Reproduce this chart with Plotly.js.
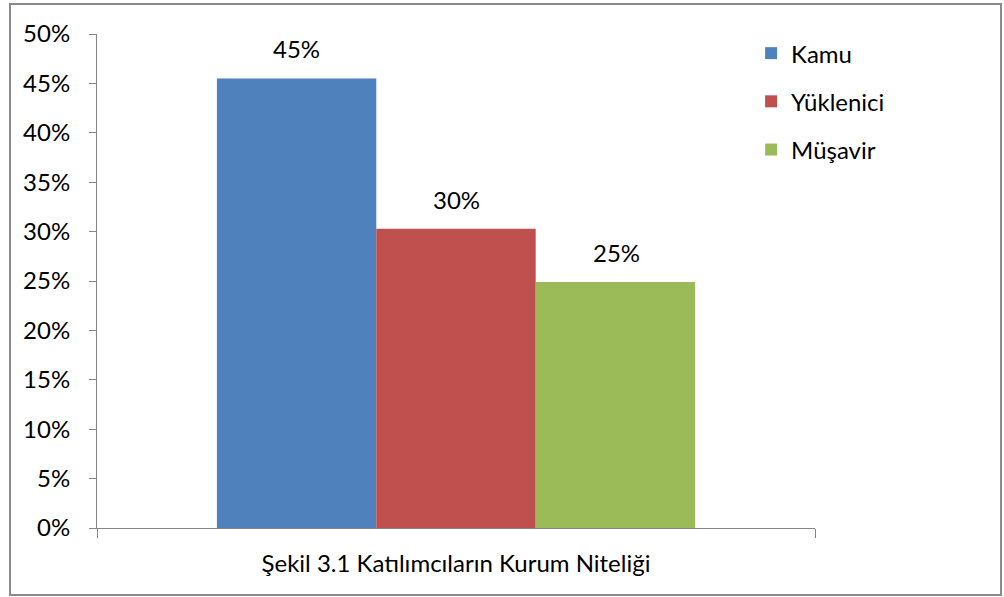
<!DOCTYPE html>
<html>
<head>
<meta charset="utf-8">
<script src="https://cdn.plot.ly/plotly-3.0.1.min.js"></script>
<style>
  html, body { margin: 0; padding: 0; background: #fff; }
  #wrap { position: relative; width: 1004px; height: 597px; }
  #chart { position: absolute; left: 0; top: 0; width: 1004px; height: 597px; }
  #frame { position: absolute; left: 9px; top: 3px; width: 989px; height: 589px;
           border: 2px solid #8a8a8a; pointer-events: none; }
</style>
</head>
<body>
<div id="wrap">
  <div id="chart"></div>
  <div id="frame"></div>
</div>
<script>
const category = ["Şekil 3.1 Katılımcıların Kurum Niteliği"];
const seriesNames = ["Kamu", "Yüklenici", "Müşavir"];
const seriesValues = [0.455, 0.303, 0.249];
const seriesLabels = ["45%", "30%", "25%"];
const seriesColors = ["#4F81BD", "#C0504D", "#9BBB59"];
const yTickVals = [0, 0.05, 0.10, 0.15, 0.20, 0.25, 0.30, 0.35, 0.40, 0.45, 0.50];
const yTickText = ["0%", "5%", "10%", "15%", "20%", "25%", "30%", "35%", "40%", "45%", "50%"];

const FONT = "Lato, 'Open Sans', sans-serif";
const FS = 24;

const traces = seriesNames.map((name, i) => ({
  type: "bar",
  name: name,
  x: category,
  y: [seriesValues[i]],
  marker: { color: seriesColors[i], line: { width: 0 } },
  legendgroup: "g" + i,
  hoverinfo: "none"
}));

const shifts = [-160, 0, 160];
const annotations = seriesNames.map((name, i) => ({
  x: category[0],
  y: seriesValues[i],
  xref: "x", yref: "y",
  text: seriesLabels[i],
  showarrow: false,
  yanchor: "bottom",
  xshift: shifts[i],
  yshift: 13,
  font: { family: FONT, size: FS, color: "#000" }
}));

const layout = {
  width: 1004, height: 597,
  margin: { l: 97, r: 189, t: 34, b: 69, pad: 0 },
  paper_bgcolor: "#fff", plot_bgcolor: "#fff",
  font: { family: FONT, size: FS, color: "#000" },
  barmode: "group",
  bargap: 0.334,
  bargroupgap: 0,
  showlegend: true,
  legend: {
    x: 0.911, xanchor: "left", y: 1.006, yanchor: "top",
    font: { family: FONT, size: FS, color: "#000" },
    tracegroupgap: 14,
    itemwidth: 30,
    bgcolor: "rgba(0,0,0,0)"
  },
  xaxis: {
    type: "category",
    showline: true, linecolor: "#868686", linewidth: 1,
    ticks: "outside", tickson: "boundaries", ticklen: 9, tickcolor: "#868686",
    showgrid: false, zeroline: false,
    ticklabelstandoff: 14,
    tickfont: { family: FONT, size: FS, color: "#000" }
  },
  yaxis: {
    range: [0, 0.5],
    tickvals: yTickVals, ticktext: yTickText,
    showline: true, linecolor: "#868686", linewidth: 1,
    ticks: "outside", ticklen: 7, tickcolor: "#868686",
    showgrid: false, zeroline: false,
    ticklabelstandoff: 14,
    tickfont: { family: FONT, size: FS, color: "#000" }
  },
  annotations: annotations
};

Plotly.newPlot("chart", traces, layout, { displayModeBar: false, staticPlot: true });
</script>
</body>
</html>
